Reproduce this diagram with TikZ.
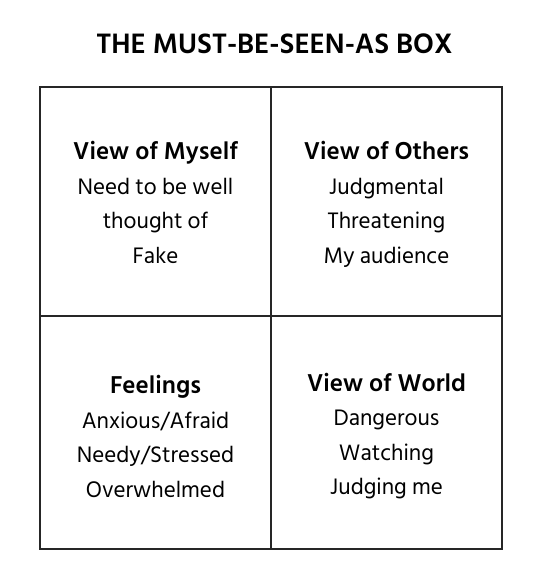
\documentclass[tikz,border=0pt]{standalone}
\usepackage{fontspec}
\setmainfont{Hind Siliguri}
\usetikzlibrary{positioning}

\newcommand{\cellhead}[1]{{\fontsize{25}{34.5}\selectfont\bfseries\strut#1}}

\tikzset{
  cell/.style={draw=black!85, line width=1.3pt, minimum width=231pt, minimum height=#1, inner sep=0pt},
  cell/.default=229pt,
  celltext/.style={inner sep=0pt, align=center, font=\fontsize{23}{34.5}\selectfont},
  title/.style={font=\bfseries\fontsize{28.8}{32}\selectfont}
}

\begin{document}
\begin{tikzpicture}[x=1pt, y=-1pt]
  \useasboundingbox (0,0) rectangle (552,584);

  % title
  \node[title] (title) at (274.5,44) {THE MUST-BE-SEEN-AS BOX};

  % four quadrants
  \node[cell] (myself) at (155.5,201.5) {};
  \node[cell] (others) at (386.5,201.5) {};
  \node[cell=233pt] (feelings) at (155.5,432.5) {};
  \node[cell=233pt] (world) at (386.5,432.5) {};

  % their texts
  \node[celltext] (myselftext) at (155.5,204.5) {\cellhead{View of Myself}\\Need to be well\\thought of\\Fake\strut};
  \node[celltext] (otherstext) at (386.5,204.5) {\cellhead{View of Others}\\Judgmental\\Threatening\\My audience\strut};
  \node[celltext] (feelingstext) at (155.5,438.5) {\cellhead{Feelings}\\Anxious/Afraid\\Needy/Stressed\\Overwhelmed\strut};
  \node[celltext] (worldtext) at (386.5,436) {\cellhead{View of World}\\Dangerous\\Watching\\Judging me\strut};
\end{tikzpicture}
\end{document}
